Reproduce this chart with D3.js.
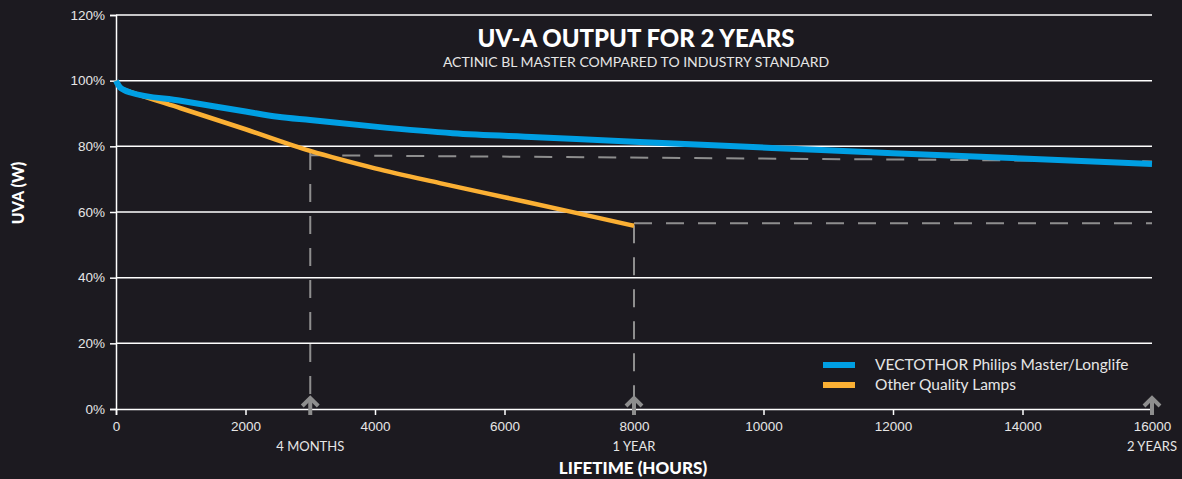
<!DOCTYPE html>
<html lang="en">
<head>
  <meta charset="UTF-8">
  <title>UV-A Output for 2 Years</title>
  <script src="https://d3js.org/d3.v7.min.js"></script>
  <style>
    body { margin: 0; background: #1c1a20; }
    svg { display: block; font-family: Lato, "Noto Sans", sans-serif; }
    .tick text { fill: #e6e6e6; font-size: 13.5px; }
  </style>
</head>
<body>
  <div id="chart"></div>

  <script>
    // Data (hours, % UVA)
    const vectothor = [
      [0, 100], [20, 99.2], [60, 98], [120, 97.2], [220, 96.4], [1000, 93.9],
      [2000, 90.6], [2500, 89], [3000, 88], [4000, 86], [5200, 84], [6500, 82.8],
      [8000, 81.4], [10500, 79.2], [12000, 77.9], [14000, 76.3], [16000, 74.6]
    ];
    const otherLamps = [
      [0, 100], [20, 99.2], [60, 98], [120, 97.3], [220, 96.6], [1000, 91.6],
      [2000, 85.2], [3000, 78.6], [4000, 73.3], [5000, 68.8], [6000, 64.5],
      [7000, 60.2], [8000, 55.8]
    ];
    const xTicks = [0, 2000, 4000, 6000, 8000, 10000, 12000, 14000, 16000];
    const yTicks = [0, 20, 40, 60, 80, 100, 120];
    const milestones = [
      { hours: 3000, label: "4 MONTHS" },
      { hours: 8000, label: "1 YEAR" },
      { hours: 16000, label: "2 YEARS" }
    ];
    // dashed guide lines: [x1, y1, x2, y2]
    const guides = [
      [3000, 78.3, 3000, 0], [3000, 77.3, 16000, 75.4],
      [8000, 56, 8000, 0], [8000, 56.6, 16000, 56.6]
    ];
    const series = [
      { name: "VECTOTHOR Philips Master/Longlife", color: "#009fe3", values: vectothor },
      { name: "Other Quality Lamps", color: "#fbb034", values: otherLamps }
    ];

    const W = 1182, H = 479;
    const margin = { top: 15, right: 30, bottom: 70, left: 116 };
    const width = 1152 - margin.left;
    const height = 409 - margin.top;

    const svg = d3.select("#chart").append("svg")
      .attr("width", W).attr("height", H);
    svg.append("rect").attr("width", W).attr("height", H).attr("fill", "#1c1a20");

    const g = svg.append("g")
      .attr("transform", "translate(" + margin.left + "," + margin.top + ")");

    const x = d3.scaleLinear().domain([0, 16000]).range([0, width]);
    const y = d3.scaleLinear().domain([0, 120]).range([height, 0]);

    // gridlines
    g.append("g")
      .selectAll("line")
      .data(yTicks.filter(d => d > 0))
      .enter().append("line")
        .attr("x1", 0).attr("x2", width)
        .attr("y1", d => y(d)).attr("y2", d => y(d))
        .attr("stroke", "#ffffff").attr("stroke-width", 1.5);

    // y axis
    const yAxis = g.append("g")
      .call(d3.axisLeft(y).tickValues(yTicks).tickFormat(d => d + "%").tickSize(6).tickPadding(5));
    yAxis.select(".domain").attr("stroke", "#fff").attr("stroke-width", 1.5);
    yAxis.selectAll(".tick line").attr("stroke", "#fff").attr("stroke-width", 1.5);

    // x axis
    const xAxis = g.append("g")
      .attr("transform", "translate(0," + height + ")")
      .call(d3.axisBottom(x).tickValues(xTicks).tickFormat(d3.format("d")).tickSize(6).tickPadding(6));
    xAxis.select(".domain").attr("stroke", "#fff").attr("stroke-width", 1.5);
    xAxis.selectAll(".tick line").attr("stroke", "#fff").attr("stroke-width", 1.5);

    // milestone labels
    g.selectAll(".milestone")
      .data(milestones)
      .enter().append("text")
        .attr("x", d => x(d.hours))
        .attr("y", height + 42)
        .attr("text-anchor", "middle")
        .attr("fill", "#e6e6e6")
        .attr("font-size", 13)
        .text(d => d.label);

    // dashed guides
    g.selectAll(".guide")
      .data(guides)
      .enter().append("line")
        .attr("x1", d => x(d[0])).attr("y1", d => y(d[1]))
        .attr("x2", d => x(d[2])).attr("y2", d => y(d[3]))
        .attr("stroke", "#8e8e8e").attr("stroke-width", 2)
        .attr("stroke-dasharray", "18,14");

    // series lines
    const line = d3.line().x(d => x(d[0])).y(d => y(d[1])).curve(d3.curveMonotoneX);
    // orange first, blue on top
    [series[1], series[0]].forEach(s => {
      g.append("path")
        .datum(s.values)
        .attr("fill", "none")
        .attr("stroke", s.color)
        .attr("stroke-width", s === series[0] ? 6 : 4.5)
        .attr("stroke-linecap", "butt")
        .attr("d", line);
    });

    // arrows at milestones
    const arrows = g.selectAll(".arrow")
      .data(milestones)
      .enter().append("g")
        .attr("transform", d => "translate(" + x(d.hours) + "," + height + ")");
    arrows.append("line")
      .attr("x1", 0).attr("x2", 0).attr("y1", -11).attr("y2", 6)
      .attr("stroke", "#8e8e8e").attr("stroke-width", 4);
    arrows.append("path")
      .attr("d", "M-8,-3 L0,-11 L8,-3")
      .attr("fill", "none")
      .attr("stroke", "#8e8e8e").attr("stroke-width", 4);

    // titles
    svg.append("text")
      .attr("x", 636).attr("y", 47)
      .attr("text-anchor", "middle")
      .attr("fill", "#ffffff")
      .attr("font-size", 24).attr("font-weight", 900)
      .text("UV-A OUTPUT FOR 2 YEARS");
    svg.append("text")
      .attr("x", 636).attr("y", 67)
      .attr("text-anchor", "middle")
      .attr("fill", "#e6e6e6")
      .attr("font-size", 14)
      .text("ACTINIC BL MASTER COMPARED TO INDUSTRY STANDARD");

    // axis titles
    svg.append("text")
      .attr("transform", "translate(24,193) rotate(-90)")
      .attr("text-anchor", "middle")
      .attr("fill", "#ffffff")
      .attr("font-size", 16).attr("font-weight", 900)
      .text("UVA (W)");
    svg.append("text")
      .attr("x", 633).attr("y", 474)
      .attr("text-anchor", "middle")
      .attr("fill", "#ffffff")
      .attr("font-size", 17).attr("font-weight", 900)
      .text("LIFETIME (HOURS)");

    // legend
    const legend = svg.append("g").attr("transform", "translate(823,365)");
    const items = legend.selectAll("g")
      .data(series)
      .enter().append("g")
        .attr("transform", (d, i) => "translate(0," + i * 20 + ")");
    items.append("line")
      .attr("x1", 0).attr("x2", 32)
      .attr("stroke", d => d.color).attr("stroke-width", 6);
    items.append("text")
      .attr("x", 52).attr("y", 5)
      .attr("fill", "#e6e6e6")
      .attr("font-size", 15.5)
      .text(d => d.name);
  </script>
</body>
</html>
